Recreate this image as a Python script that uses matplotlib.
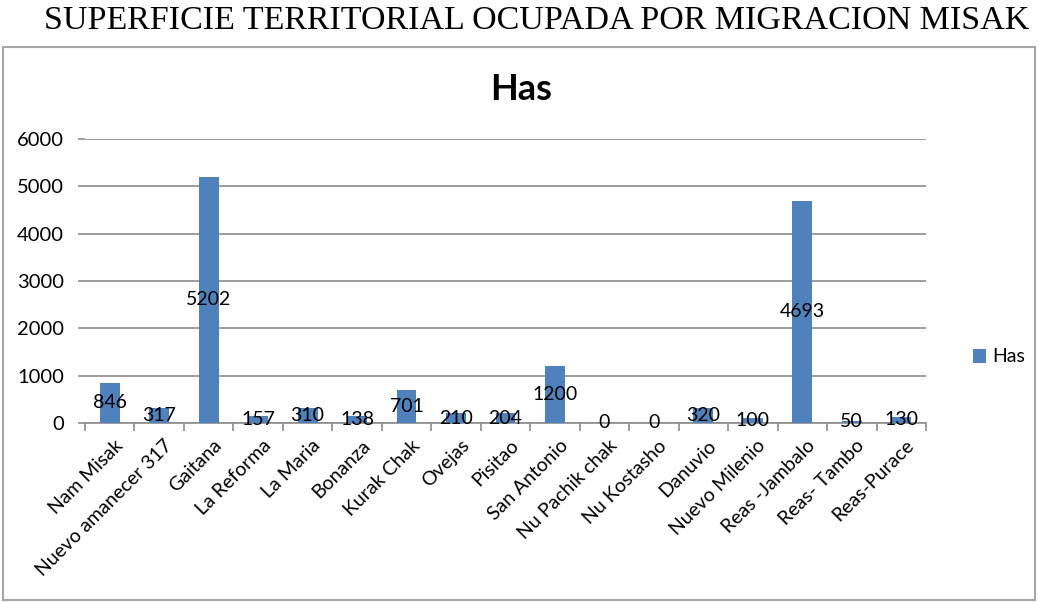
import matplotlib
matplotlib.use("Agg")
import matplotlib.pyplot as plt
from matplotlib.patches import Rectangle, Patch
import numpy as np

categories = ["Nam Misak", "Nuevo amanecer 317", "Gaitana", "La Reforma", "La Maria",
              "Bonanza", "Kurak Chak", "Ovejas", "Pisitao", "San Antonio",
              "Nu Pachik chak", "Nu Kostasho", "Danuvio", "Nuevo Milenio",
              "Reas -Jambalo", "Reas- Tambo", "Reas-Purace"]
values = [846, 317, 5202, 157, 310, 138, 701, 210, 204, 1200, 0, 0, 320, 100, 4693, 50, 130]
yticks = [0, 1000, 2000, 3000, 4000, 5000, 6000]
series_name = "Has"
main_title = "SUPERFICIE TERRITORIAL OCUPADA POR MIGRACION MISAK"

W, H = 1039, 602
fig = plt.figure(figsize=(W / 100, H / 100), dpi=100)
font = "Lato"
bar_color = "#4F81BD"
grid_color = "#8C8C8C"

# outer chart border
fig.patches.append(Rectangle((3 / W, 1 - 600 / H), 1032 / W, 553 / H,
                             transform=fig.transFigure, fill=False,
                             edgecolor="#A6A6A6", linewidth=1.5))

fig.text(537 / W, 1 - 21 / H, main_title, family="Liberation Serif",
         fontsize=24.5, ha="center", va="center", color="black")

ax = fig.add_axes([85 / W, 1 - 423 / H, (926 - 85) / W, (423 - 139) / H])
n = len(categories)
x = np.arange(n)
ax.bar(x, values, width=0.4, color=bar_color, zorder=3)
ax.set_xlim(-0.5, n - 0.5)
ax.set_ylim(0, 6000)
ax.set_yticks(yticks)
ax.set_yticklabels([str(v) for v in yticks], family=font, fontsize=14.5)
ax.yaxis.grid(True, color=grid_color, linewidth=1.2, zorder=0)
for s in ["top", "right", "left"]:
    ax.spines[s].set_visible(False)
ax.spines["bottom"].set_color(grid_color)
ax.spines["bottom"].set_linewidth(1.2)
ax.tick_params(axis="y", length=5, color=grid_color, width=1.2, pad=10)
ax.set_xticks(np.arange(n + 1) - 0.5)
ax.set_xticklabels([])
ax.tick_params(axis="x", length=6, color=grid_color, width=1.2)
for i, c in enumerate(categories):
    ax.annotate(c, xy=(i, 0), xycoords="data", xytext=(3, -10), textcoords="offset points",
                rotation=45, ha="right", va="top", rotation_mode="anchor",
                family=font, fontsize=14)
for i, v in enumerate(values):
    ax.text(i, v / 2, str(v), ha="center", va="center", family=font, fontsize=14, zorder=4)

fig.text(521 / W, 1 - 89 / H, series_name, family=font, fontweight="bold",
         fontsize=26, ha="center", va="center")

fig.legend(handles=[Patch(facecolor=bar_color, label=series_name)],
           loc="center left", bbox_to_anchor=(955 / W, 1 - 357 / H), frameon=False,
           prop={"family": font, "size": 14}, handlelength=0.7, handleheight=0.7,
           handletextpad=0.3)

fig.savefig("out.png", dpi=100)
